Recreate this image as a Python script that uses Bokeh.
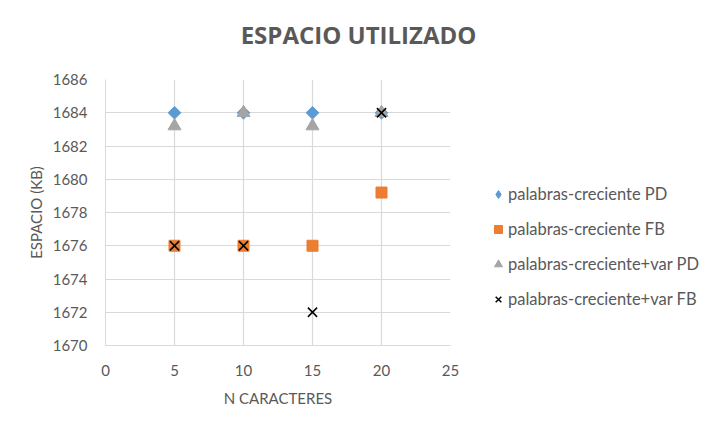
import math
from bokeh.plotting import figure
from bokeh.models import Legend, LegendItem, Range1d, FixedTicker, Label
from bokeh.layouts import column, row
from bokeh.embed import file_html
from bokeh.resources import INLINE

# data
n_caracteres = [5, 10, 15, 20]
pd_vals = [1684, 1684, 1684, 1684]
fb_vals = [1676, 1676, 1676, 1679.2]
var_pd_vals = [1683.2, 1684, 1683.2, 1684]
var_fb_vals = [1676, 1676, 1672, 1684]
series_names = ["palabras-creciente PD", "palabras-creciente FB",
                "palabras-creciente+var PD", "palabras-creciente+var FB"]
x_ticks = [0, 5, 10, 15, 20, 25]
y_ticks = [1670, 1672, 1674, 1676, 1678, 1680, 1682, 1684, 1686]
chart_title = "ESPACIO UTILIZADO"

FONT = "Lato"
TXT = "#595959"
GRID = "#d9d9d9"
BLUE, ORANGE, GRAY = "#5B9BD5", "#ED7D31", "#A5A5A5"


def bare(fig):
    fig.outline_line_color = None
    fig.background_fill_color = "white"
    fig.border_fill_color = "white"
    return fig


# ---- title strip
tf = bare(figure(width=717, height=60, output_backend="svg", toolbar_location=None,
                 x_axis_location=None, y_axis_location=None, min_border=0,
                 x_range=Range1d(0, 1), y_range=Range1d(0, 1)))
tf.grid.visible = False
tf.add_layout(Label(x=358, y=26, x_units="screen", y_units="screen", text=chart_title,
                    text_align="center", text_baseline="middle",
                    text_font="Open Sans", text_font_size="24px",
                    text_font_style="bold", text_color=TXT))

# ---- main chart
p = bare(figure(width=460, height=370, output_backend="svg", toolbar_location=None,
                x_range=Range1d(0, 25), y_range=Range1d(1670, 1686),
                min_border_left=105, min_border_right=10, min_border_top=19,
                min_border_bottom=85))


def add_series(fig):
    a = fig.scatter(n_caracteres, pd_vals, marker="square", angle=math.pi / 4, size=9,
                    fill_color=BLUE, line_color=BLUE)
    b = fig.scatter(n_caracteres, fb_vals, marker="square", size=11,
                    fill_color=ORANGE, line_color=ORANGE)
    c = fig.scatter(n_caracteres, var_pd_vals, marker="triangle", size=13,
                    fill_color=GRAY, line_color=GRAY)
    d = fig.scatter(n_caracteres, var_fb_vals, marker="x", size=13,
                    line_color="black", line_width=1.5)
    return a, b, c, d


add_series(p)

for ax in (p.xaxis[0], p.yaxis[0]):
    ax.axis_line_color = GRID
    ax.major_tick_line_color = None
    ax.minor_tick_line_color = None
    ax.major_label_text_font = FONT
    ax.major_label_text_font_size = "15px"
    ax.major_label_text_color = TXT
    ax.axis_label_text_font = FONT
    ax.axis_label_text_font_size = "15px"
    ax.axis_label_text_font_style = "normal"
    ax.axis_label_text_color = TXT

p.xaxis.ticker = FixedTicker(ticks=x_ticks)
p.yaxis.ticker = FixedTicker(ticks=y_ticks)
p.xaxis.axis_label = "N CARACTERES"
p.yaxis.axis_label = "ESPACIO (KB)"
p.xaxis.major_label_standoff = 13
p.yaxis.major_label_standoff = 12
p.xaxis.axis_label_standoff = 10
p.yaxis.axis_label_standoff = 5

p.xgrid.ticker = FixedTicker(ticks=x_ticks)
p.ygrid.ticker = FixedTicker(ticks=y_ticks)
p.xgrid.grid_line_color = GRID
p.ygrid.grid_line_color = GRID
p.xgrid.grid_line_width = 1.2
p.ygrid.grid_line_width = 1.2

# ---- legend panel (series drawn off-screen, only their legend shows)
lf = bare(figure(width=257, height=370, output_backend="svg", toolbar_location=None,
                 x_axis_location=None, y_axis_location=None, min_border=0,
                 x_range=Range1d(-100, -99), y_range=Range1d(-100, -99)))
lf.grid.visible = False
la, lb, lc, ld = add_series(lf)
l_diamond = lf.scatter(n_caracteres, pd_vals, marker="diamond", size=10,
                       fill_color=BLUE, line_color=BLUE)

legend = Legend(items=[LegendItem(label=series_names[0], renderers=[l_diamond]),
                       LegendItem(label=series_names[1], renderers=[lb]),
                       LegendItem(label=series_names[2], renderers=[lc]),
                       LegendItem(label=series_names[3], renderers=[ld])],
                location=(28, 35), orientation="vertical",
                glyph_width=20, glyph_height=22, label_standoff=0, spacing=13,
                padding=5, margin=0, border_line_color=None,
                background_fill_alpha=0,
                label_text_font=FONT, label_text_font_size="16.5px",
                label_text_color=TXT)
lf.add_layout(legend, "center")

layout = column(tf, row(p, lf, spacing=0), spacing=0)
open("out.html", "w").write(file_html(layout, INLINE))
